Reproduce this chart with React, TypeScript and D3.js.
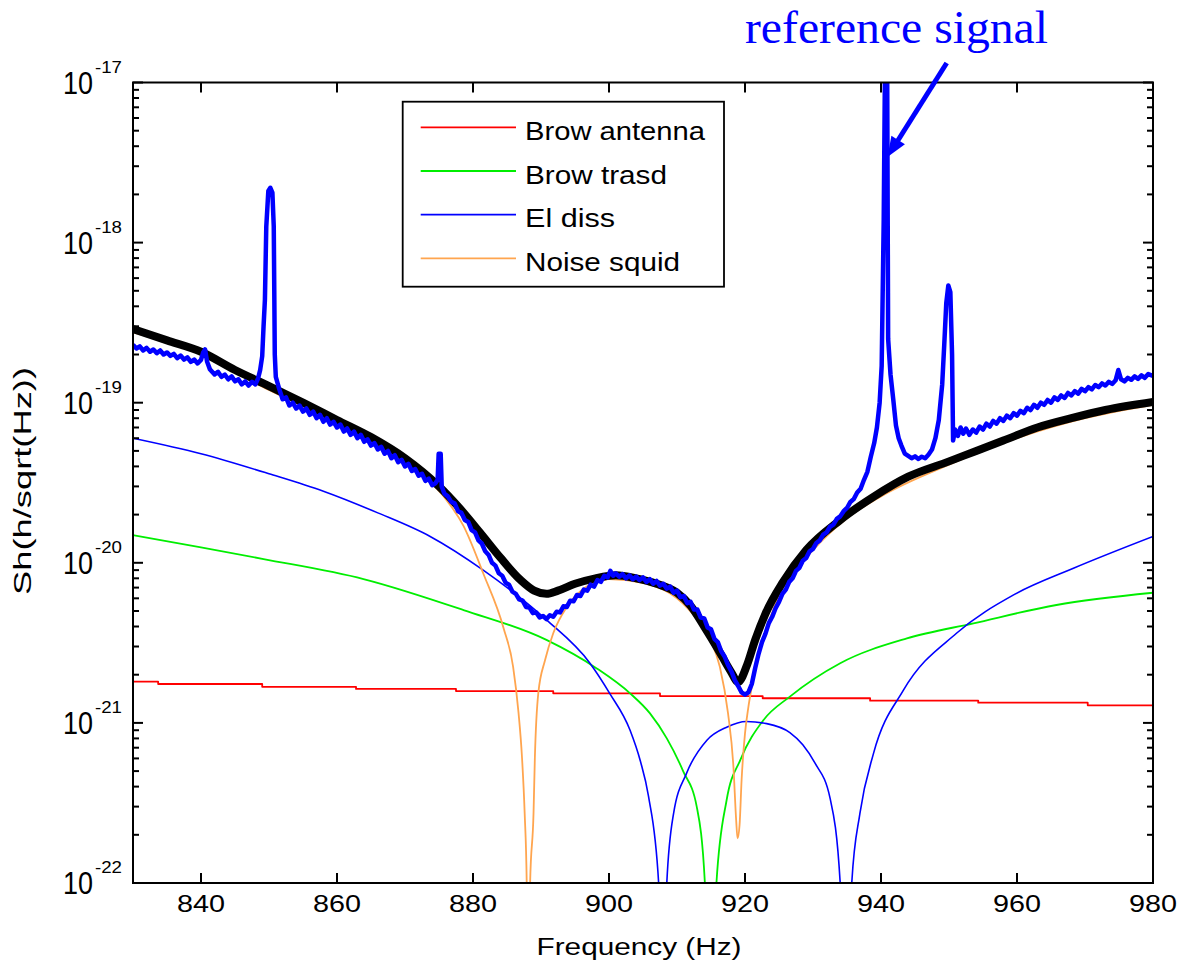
import React from 'react';
import * as d3 from 'd3';

// ---------- data ----------
const xTicks = [840, 860, 880, 900, 920, 940, 960, 980];
const yDecades = [-17, -18, -19, -20, -21, -22];
const legendLabels = ['Brow antenna', 'Brow trasd', 'El diss', 'Noise squid'];

// Brow antenna (red, stepped)
const browAntenna: [number, number][] = [
  [830, 1.81e-21], [833.7, 1.75e-21], [849.0, 1.68e-21], [862.8, 1.63e-21], [877.5, 1.58e-21],
  [891.8, 1.53e-21], [907.5, 1.47e-21], [922.6, 1.425e-21], [938.4, 1.377e-21], [954.3, 1.337e-21],
  [970.4, 1.288e-21], [980, 1.288e-21],
];

// Brow trasd (green)
const browTrasd: [number, number][] = [
  [830, 1.49e-20], [840, 1.25e-20], [849.2, 1.056e-20], [863.9, 7.92e-21], [878.6, 5.07e-21],
  [890.8, 3.3e-21], [898.2, 2.19e-21], [903.1, 1.53e-21], [906, 1.15e-21], [908.5, 8.0e-22],
  [910.9, 5.0e-22], [912.9, 3.0e-22], [914.1, 1e-22], [915.0, 1e-23], [915.8, 1e-22],
  [917.3, 3.3e-22], [919.3, 5.86e-22], [922.7, 1.04e-21], [926.6, 1.46e-21], [934, 2.36e-21],
  [943.8, 3.37e-21], [953.6, 4.19e-21], [965.8, 5.45e-21], [980, 6.5e-21],
];

// El diss (thin blue)
const elDiss: [number, number][] = [
  [830, 6.0e-20], [840, 4.8e-20], [850, 3.6e-20], [858, 2.8e-20], [866, 2.05e-20],
  [873.7, 1.46e-20], [881.5, 9.0e-21], [886, 6.5e-21], [890.8, 4.4e-21], [897.2, 2.36e-21],
  [900.1, 1.53e-21], [903.1, 9.0e-22], [904.6, 5.8e-22], [905.8, 3.5e-22],
  [907.3, 1e-22], [907.9, 1e-23], [908.5, 1e-22], [909.5, 2.72e-22], [911.4, 4.84e-22],
  [914.4, 7.8e-22], [917.3, 9.4e-22], [920.2, 1.02e-21], [923.2, 9.9e-22], [926.6, 8.7e-22],
  [928.5, 7.3e-22], [930.3, 5.6e-22], [932.5, 3.4e-22], [934.0, 1e-22], [934.8, 1e-23], [935.7, 1e-22],
  [936.9, 2.72e-22], [938.9, 6.45e-22], [943.3, 1.6e-21], [951.1, 3.63e-21], [959.5, 6.3e-21],
  [968.3, 9.24e-21], [980, 1.46e-20],
];

// Noise squid (orange)
const noiseSquid: [number, number][] = [
  [830, 2.75e-19], [840, 2.0e-19], [850, 1.2e-19], [860, 7.5e-20], [868, 4.8e-20],
  [873.7, 3.2e-20], [876, 2.5e-20], [878.6, 1.7e-20], [881.5, 8.6e-21], [884.5, 3.9e-21],
  [885.9, 2.24e-21], [886.7, 1.15e-21], [887.2, 6.15e-22], [887.6, 2.72e-22], [887.9, 1e-22],
  [888.15, 1e-23], [888.4, 1e-22], [888.9, 2.72e-22], [889.1, 6.1e-22], [889.6, 1.53e-21],
  [890.6, 2.47e-21], [891.8, 3.63e-21], [893.8, 5.3e-21], [895.2, 6.3e-21], [900, 7.9e-21],
  [905, 7.5e-21], [910, 6.0e-21], [913, 4.4e-21], [914.9, 3.3e-21], [916.3, 2.24e-21],
  [917.5, 1.15e-21], [918.3, 5.3e-22], [918.7, 2.47e-22], [918.9, 1.9e-22], [919.2, 2.3e-22],
  [919.5, 4.4e-22], [920, 8.6e-22], [920.5, 1.26e-21], [921, 1.68e-21], [921.5, 2.14e-21],
  [922.5, 3.1e-21], [925, 6.3e-21], [930, 1.2e-20], [935, 1.9e-20], [940, 2.6e-20],
  [950, 4.1e-20], [960, 6.0e-20], [970, 8.0e-20], [980, 9.7e-20],
];

// Total model (black, thick)
const totalModel: [number, number][] = [
  [830, 2.88e-19], [835, 2.45e-19], [840, 2.08e-19], [845, 1.6e-19], [850, 1.27e-19],
  [855, 1.0e-19], [860, 7.8e-20], [865, 6.1e-20], [870, 4.5e-20], [875, 3.0e-20],
  [878, 2.2e-20], [881, 1.55e-20], [884, 1.08e-20], [887, 7.8e-21], [889, 6.7e-21],
  [890.8, 6.4e-21], [892.5, 6.7e-21], [895, 7.4e-21], [898, 8.0e-21], [901, 8.35e-21],
  [904, 8.0e-21], [907, 7.4e-21], [910, 6.5e-21], [912, 5.4e-21], [914, 4.0e-21],
  [916, 2.9e-21], [917.9, 2.1e-21], [919, 1.8e-21], [920.3, 2.3e-21], [921.5, 3.3e-21],
  [923, 4.8e-21], [925.6, 7.6e-21], [929, 1.2e-20], [934, 1.85e-20], [939, 2.6e-20],
  [944, 3.45e-20], [950, 4.3e-20], [954, 5.0e-20], [958, 5.8e-20], [963, 7.0e-20],
  [968, 8.0e-20], [973, 9.0e-20], [980, 1.01e-19],
];

// Measured spectrum (blue, thick, noisy)
const measured: [number, number][] = [
  [830.0, 2.30e-19], [830.5, 2.18e-19], [831.0, 2.25e-19], [831.5, 2.12e-19], [832.0, 2.20e-19],
  [832.5, 2.08e-19], [833.0, 2.15e-19], [833.5, 2.04e-19], [834.0, 2.12e-19], [834.5, 2.00e-19],
  [835.0, 2.06e-19], [835.5, 1.96e-19], [836.0, 2.02e-19], [836.5, 1.90e-19], [837.0, 1.97e-19],
  [837.5, 1.86e-19], [838.0, 1.92e-19], [838.5, 1.80e-19], [839.0, 1.86e-19], [839.5, 1.76e-19],
  [840.0, 1.85e-19], [840.3, 2.05e-19], [840.6, 2.15e-19], [840.9, 1.80e-19], [841.3, 1.62e-19],
  [841.7, 1.55e-19], [842.0, 1.50e-19], [842.5, 1.56e-19], [843.0, 1.45e-19], [843.5, 1.50e-19],
  [844.0, 1.40e-19], [844.5, 1.46e-19], [845.0, 1.36e-19], [845.5, 1.40e-19], [846.0, 1.30e-19],
  [846.5, 1.36e-19], [847.0, 1.28e-19], [847.5, 1.35e-19], [848.0, 1.30e-19], [848.4, 1.42e-19],
  [848.7, 1.60e-19], [849.0, 1.95e-19], [849.2, 3.0e-19], [849.4, 4.4e-19], [849.6, 1.26e-18],
  [849.9, 2.10e-18], [850.2, 2.20e-18], [850.5, 2.05e-18], [850.7, 1.26e-18], [850.85, 2.0e-19],
  [851.0, 1.45e-19], [851.5, 1.22e-19], [852.0, 1.05e-19], [852.5, 1.08e-19], [853.0, 9.6e-20],
  [853.5, 1.0e-19], [854.0, 9.2e-20], [854.5, 9.6e-20], [855.0, 8.8e-20], [855.5, 9.2e-20],
  [856.0, 8.4e-20], [856.5, 8.8e-20], [857.0, 8.0e-20], [857.5, 8.4e-20], [858.0, 7.6e-20],
  [858.5, 8.0e-20], [859.0, 7.3e-20], [859.5, 7.6e-20], [860.0, 7.0e-20], [860.5, 7.3e-20],
  [861.0, 6.6e-20], [861.5, 6.9e-20], [862.0, 6.3e-20], [862.5, 6.6e-20], [863.0, 6.0e-20],
  [863.5, 6.3e-20], [864.0, 5.7e-20], [864.5, 5.9e-20], [865.0, 5.4e-20], [865.5, 5.6e-20],
  [866.0, 5.1e-20], [866.5, 5.3e-20], [867.0, 4.8e-20], [867.5, 5.0e-20], [868.0, 4.5e-20],
  [868.5, 4.7e-20], [869.0, 4.25e-20], [869.5, 4.4e-20], [870.0, 4.0e-20], [870.5, 4.15e-20],
  [871.0, 3.75e-20], [871.5, 3.85e-20], [872.0, 3.5e-20], [872.5, 3.6e-20], [873.0, 3.25e-20],
  [873.5, 3.35e-20], [874.0, 3.05e-20], [874.5, 3.15e-20], [874.8, 3.3e-20], [874.95, 4.8e-20],
  [875.25, 4.8e-20], [875.4, 3.0e-20], [875.8, 2.7e-20], [876.3, 2.6e-20], [876.8, 2.4e-20],
  [877.3, 2.35e-20], [877.8, 2.1e-20], [878.3, 2.05e-20], [878.8, 1.85e-20], [879.3, 1.8e-20],
  [879.8, 1.6e-20], [880.3, 1.55e-20], [880.8, 1.38e-20], [881.3, 1.32e-20], [881.8, 1.18e-20],
  [882.3, 1.12e-20], [882.8, 1.0e-20], [883.3, 9.6e-21], [883.8, 8.6e-21], [884.3, 8.3e-21],
  [884.8, 7.5e-21], [885.3, 7.3e-21], [885.8, 6.6e-21], [886.3, 6.4e-21], [886.8, 5.9e-21],
  [887.3, 5.8e-21], [887.8, 5.3e-21], [888.3, 5.25e-21], [888.8, 4.85e-21], [889.3, 4.9e-21],
  [889.8, 4.55e-21], [890.3, 4.65e-21], [890.8, 4.45e-21], [891.3, 4.7e-21], [891.8, 4.6e-21],
  [892.3, 4.95e-21], [892.8, 4.9e-21], [893.3, 5.35e-21], [893.8, 5.3e-21], [894.3, 5.8e-21],
  [894.8, 5.75e-21], [895.3, 6.3e-21], [895.8, 6.2e-21], [896.3, 6.8e-21], [896.8, 6.7e-21],
  [897.3, 7.3e-21], [897.8, 7.1e-21], [898.3, 7.8e-21], [898.8, 7.6e-21], [899.3, 8.3e-21],
  [899.8, 8.1e-21], [900.2, 8.9e-21], [900.6, 8.3e-21], [901.0, 8.6e-21], [901.5, 8.2e-21],
  [902.0, 8.5e-21], [902.5, 8.0e-21], [903.0, 8.35e-21], [903.5, 7.9e-21], [904.0, 8.2e-21],
  [904.5, 7.8e-21], [905.0, 8.1e-21], [905.5, 7.6e-21], [906.0, 7.9e-21], [906.5, 7.4e-21],
  [907.0, 7.7e-21], [907.5, 7.2e-21], [908.0, 7.4e-21], [908.5, 6.9e-21], [909.0, 7.1e-21],
  [909.5, 6.5e-21], [910.0, 6.7e-21], [910.5, 6.1e-21], [911.0, 6.2e-21], [911.5, 5.6e-21],
  [912.0, 5.7e-21], [912.5, 5.1e-21], [913.0, 5.1e-21], [913.5, 4.55e-21], [914.0, 4.5e-21],
  [914.5, 3.95e-21], [915.0, 3.85e-21], [915.5, 3.35e-21], [916.0, 3.2e-21], [916.5, 2.8e-21],
  [917.0, 2.6e-21], [917.5, 2.3e-21], [918.0, 2.1e-21], [918.5, 1.85e-21], [919.0, 1.7e-21],
  [919.5, 1.55e-21], [920.0, 1.5e-21], [920.5, 1.55e-21], [921.0, 1.75e-21], [921.5, 2.2e-21],
  [922.0, 2.7e-21], [922.5, 3.2e-21], [923.0, 3.6e-21], [923.5, 4.2e-21], [924.0, 4.6e-21],
  [924.5, 5.2e-21], [925.0, 5.7e-21], [925.5, 6.4e-21], [926.0, 6.8e-21], [926.5, 7.6e-21],
  [927.0, 8.0e-21], [927.5, 8.9e-21], [928.0, 9.3e-21], [928.5, 1.03e-20], [929.0, 1.07e-20],
  [929.5, 1.18e-20], [930.0, 1.22e-20], [930.5, 1.33e-20], [931.0, 1.38e-20], [931.5, 1.5e-20],
  [932.0, 1.55e-20], [932.5, 1.68e-20], [933.0, 1.73e-20], [933.5, 1.88e-20], [934.0, 1.95e-20],
  [934.5, 2.1e-20], [935.0, 2.2e-20], [935.5, 2.4e-20], [936.0, 2.5e-20], [936.5, 2.75e-20],
  [937.0, 2.9e-20], [937.5, 3.3e-20], [938.0, 3.7e-20], [938.5, 4.6e-20], [939.0, 5.6e-20],
  [939.4, 7.0e-20], [939.8, 1.0e-19], [940.1, 1.7e-19], [940.4, 1.4e-18], [940.6, 1.5e-17],
  [940.9, 1.5e-17], [941.05, 2.5e-19], [941.4, 1.5e-19], [941.8, 1.05e-19], [942.2, 7.2e-20],
  [942.6, 6.0e-20], [943.0, 5.4e-20], [943.5, 4.8e-20], [944.0, 4.65e-20], [944.5, 4.5e-20],
  [945.0, 4.62e-20], [945.5, 4.45e-20], [946.0, 4.6e-20], [946.5, 4.5e-20], [947.0, 4.75e-20],
  [947.5, 5.1e-20], [948.0, 6.0e-20], [948.5, 7.8e-20], [949.0, 1.3e-19], [949.3, 2.3e-19],
  [949.6, 4.2e-19], [949.9, 5.4e-19], [950.2, 4.9e-19], [950.45, 2.0e-19], [950.6, 5.8e-20],
  [950.9, 6.8e-20], [951.3, 6.2e-20], [951.7, 7.0e-20], [952.1, 6.4e-20], [952.5, 6.9e-20],
  [953.0, 6.3e-20], [953.5, 6.8e-20], [954.0, 6.5e-20], [954.5, 7.1e-20], [955.0, 6.8e-20],
  [955.5, 7.4e-20], [956.0, 7.1e-20], [956.5, 7.7e-20], [957.0, 7.4e-20], [957.5, 8.0e-20],
  [958.0, 7.7e-20], [958.5, 8.3e-20], [959.0, 8.0e-20], [959.5, 8.6e-20], [960.0, 8.3e-20],
  [960.5, 8.9e-20], [961.0, 8.6e-20], [961.5, 9.3e-20], [962.0, 9.0e-20], [962.5, 9.7e-20],
  [963.0, 9.3e-20], [963.5, 1.0e-19], [964.0, 9.7e-20], [964.5, 1.04e-19], [965.0, 1.0e-19],
  [965.5, 1.08e-19], [966.0, 1.04e-19], [966.5, 1.11e-19], [967.0, 1.07e-19], [967.5, 1.15e-19],
  [968.0, 1.11e-19], [968.5, 1.18e-19], [969.0, 1.14e-19], [969.5, 1.22e-19], [970.0, 1.18e-19],
  [970.5, 1.25e-19], [971.0, 1.21e-19], [971.5, 1.29e-19], [972.0, 1.25e-19], [972.5, 1.32e-19],
  [973.0, 1.28e-19], [973.5, 1.35e-19], [974.0, 1.31e-19], [974.5, 1.38e-19], [974.9, 1.6e-19],
  [975.3, 1.4e-19], [975.8, 1.36e-19], [976.3, 1.43e-19], [976.8, 1.39e-19], [977.3, 1.46e-19],
  [977.8, 1.41e-19], [978.3, 1.48e-19], [978.8, 1.43e-19], [979.3, 1.51e-19], [980.0, 1.47e-19],
];

// ---------- layout ----------
const W = 1177, H = 966;
const X0 = 133, X1 = 1153, Y0 = 82.5, Y1 = 883;
const SANS = '"Liberation Sans", Arial, Helvetica, sans-serif';
const SERIF = '"Liberation Serif", "Times New Roman", serif';

const x = d3.scaleLinear().domain([830, 980]).range([X0, X1]);
const y = d3.scaleLog().domain([1e-22, 1e-17]).range([Y1, Y0]);

const smooth = d3.line<[number, number]>().x(d => x(d[0])).y(d => y(d[1])).curve(d3.curveMonotoneX);
const straight = d3.line<[number, number]>().x(d => x(d[0])).y(d => y(d[1]));
const stepped = d3.line<[number, number]>().x(d => x(d[0])).y(d => y(d[1])).curve(d3.curveStepAfter);

const legendColors = ['#ff0000', '#00ee00', '#0000ff', '#ffa54f'];

function FitText(props: { x: number; y: number; len: number; size: number; children: string; fill?: string; family?: string }) {
  return (
    <text x={props.x} y={props.y} fontSize={props.size} fontFamily={props.family || SANS}
      textLength={props.len} lengthAdjust="spacingAndGlyphs" fill={props.fill || '#000'}>
      {props.children}
    </text>
  );
}

export default function App() {
  const minor: number[] = [];
  for (let d = -22; d < -17; d++) for (let k = 2; k <= 9; k++) minor.push(k * Math.pow(10, d));

  // arrow geometry
  const ax0 = 946.7, ay0 = 63, tipX = 887.5, tipY = 157;
  const dx = tipX - ax0, dy = tipY - ay0, L = Math.hypot(dx, dy);
  const ux = dx / L, uy = dy / L, px = -uy, py = ux;
  const hl = 20, hw = 8;
  const bx = tipX - ux * hl, by = tipY - uy * hl;

  return (
    <svg width={W} height={H} style={{ position: 'absolute', left: 0, top: 0, background: '#fff' }}>
      <rect x={0} y={0} width={W} height={H} fill="#fff" />
      <defs>
        <clipPath id="plotClip">
          <rect x={X0} y={Y0} width={X1 - X0} height={Y1 - Y0} />
        </clipPath>
      </defs>
      <g clipPath="url(#plotClip)" fill="none" strokeLinejoin="round">
        <path d={stepped(browAntenna) || ''} stroke={legendColors[0]} strokeWidth={1.8} />
        <path d={smooth(browTrasd) || ''} stroke={legendColors[1]} strokeWidth={1.8} />
        <path d={smooth(elDiss) || ''} stroke={legendColors[2]} strokeWidth={1.6} />
        <path d={smooth(noiseSquid) || ''} stroke={legendColors[3]} strokeWidth={1.8} />
        <path d={smooth(totalModel) || ''} stroke="#000" strokeWidth={8} />
        <path d={straight(measured) || ''} stroke="#0000ff" strokeWidth={4.5} />
      </g>

      {/* axes box */}
      <rect x={X0} y={Y0} width={X1 - X0} height={Y1 - Y0} fill="none" stroke="#000" strokeWidth={2} />
      {xTicks.map(t => (
        <g key={'xt' + t}>
          <line x1={x(t)} x2={x(t)} y1={Y1} y2={Y1 - 10} stroke="#000" strokeWidth={2} />
          <line x1={x(t)} x2={x(t)} y1={Y0} y2={Y0 + 10} stroke="#000" strokeWidth={2} />
          <FitText x={x(t) - 24} y={912} len={48} size={23}>{String(t)}</FitText>
        </g>
      ))}
      {yDecades.map(d => (
        <g key={'yt' + d}>
          <line x1={X0} x2={X0 + 10} y1={y(Math.pow(10, d))} y2={y(Math.pow(10, d))} stroke="#000" strokeWidth={2} />
          <line x1={X1} x2={X1 - 10} y1={y(Math.pow(10, d))} y2={y(Math.pow(10, d))} stroke="#000" strokeWidth={2} />
          <FitText x={63} y={y(Math.pow(10, d)) + 11} len={30} size={32}>10</FitText>
          <FitText x={95} y={y(Math.pow(10, d)) - 10} len={27} size={17}>{String(d)}</FitText>
        </g>
      ))}
      {minor.map((v, i) => (
        <g key={'mn' + i}>
          <line x1={X0} x2={X0 + 6} y1={y(v)} y2={y(v)} stroke="#000" strokeWidth={2} />
          <line x1={X1} x2={X1 - 6} y1={y(v)} y2={y(v)} stroke="#000" strokeWidth={2} />
        </g>
      ))}

      {/* axis labels */}
      <FitText x={536.5} y={955} len={205} size={23}>Frequency (Hz)</FitText>
      <g transform="translate(31,481) rotate(-90)">
        <text x={-114} y={0} fontSize={23} fontFamily={SANS} textLength={228} lengthAdjust="spacingAndGlyphs">Sh(h/sqrt(Hz))</text>
      </g>

      {/* legend */}
      <rect x={402.7} y={101.7} width={321.3} height={185} fill="#fff" stroke="#000" strokeWidth={1.8} />
      {legendLabels.map((lab, i) => {
        const ly = 127.3 + i * 43.7;
        const lens = [180, 142, 90, 155];
        return (
          <g key={lab}>
            <line x1={420.7} x2={516} y1={ly} y2={ly} stroke={legendColors[i]} strokeWidth={1.8} />
            <FitText x={525} y={ly + 12.5} len={lens[i]} size={25}>{lab}</FitText>
          </g>
        );
      })}

      {/* annotation */}
      <FitText x={745} y={43} len={303} size={46} family={SERIF} fill="#0000ff">reference signal</FitText>
      <line x1={ax0} y1={ay0} x2={bx + ux * 2} y2={by + uy * 2} stroke="#0000ff" strokeWidth={5} />
      <polygon points={`${tipX},${tipY} ${bx + px * hw},${by + py * hw} ${bx - px * hw},${by - py * hw}`} fill="#0000ff" />
    </svg>
  );
}
